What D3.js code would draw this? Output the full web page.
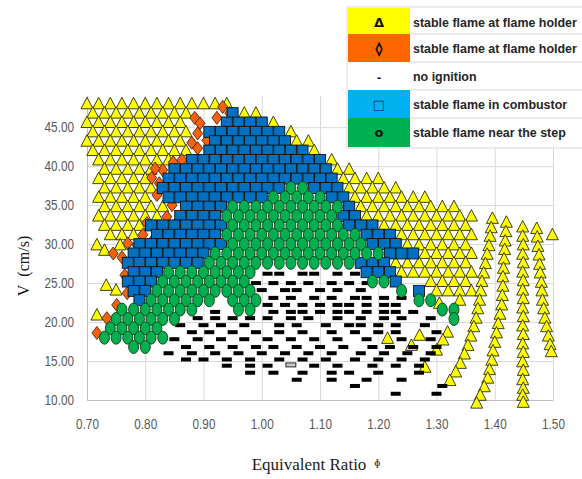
<!DOCTYPE html>
<html>
<head>
<meta charset="utf-8">
<script src="https://cdn.jsdelivr.net/npm/d3@7"></script>
<style>
  body { margin: 0; background: #fff; }
  svg { display: block; }
  .tick-label { font-family: "Liberation Sans", sans-serif; font-size: 14px; fill: #595959; }
  .axis-title { font-family: "Liberation Serif", "DejaVu Serif", serif; fill: #1a1a1a; }
  .legend-text { font-family: "Liberation Sans", sans-serif; font-size: 14px; font-weight: bold; fill: #262626; }
</style>
</head>
<body>
<div id="chart"></div>
<script>
// ---- data ----
var xTicks = [0.70, 0.80, 0.90, 1.00, 1.10, 1.20, 1.30, 1.40, 1.50];
var yTicks = [10, 15, 20, 25, 30, 35, 40, 45];

var legendLabels = [
  "stable flame at flame holder",
  "stable flame at flame holder",
  "no ignition",
  "stable flame in combustor",
  "stable flame near the step"
];
var legendSymbols = ["\u0394", "\u25CA", "-", "\u25A1", "o"];

// yellow triangles, rows of [V, [phi ...]]
var triangleRows = [
  [48.0, [0.70, 0.72, 0.74, 0.76, 0.78, 0.80, 0.82, 0.84, 0.86, 0.88, 0.90, 0.92, 0.94]],
  [46.8, [0.71, 0.73, 0.75, 0.77, 0.79, 0.81, 0.83, 0.85, 0.87, 0.97, 0.99]],
  [45.6, [0.70, 0.72, 0.74, 0.76, 0.78, 0.80, 0.82, 0.84, 0.86, 1.02]],
  [44.4, [0.71, 0.73, 0.75, 0.77, 0.79, 0.81, 0.83, 0.85, 0.87, 1.05]],
  [43.2, [0.70, 0.72, 0.74, 0.76, 0.78, 0.80, 0.82, 0.84, 0.86, 1.06, 1.08]],
  [42.0, [0.71, 0.73, 0.75, 0.77, 0.79, 0.81, 0.83, 0.85, 0.87, 1.09]],
  [40.8, [0.72, 0.74, 0.76, 0.78, 0.80, 0.82, 0.84, 1.12]],
  [39.6, [0.73, 0.75, 0.77, 0.79, 0.81, 1.13, 1.15]],
  [38.4, [0.72, 0.74, 0.76, 0.78, 0.80, 1.14, 1.16, 1.18, 1.20]],
  [37.2, [0.73, 0.75, 0.77, 0.79, 0.81, 1.15, 1.17, 1.19, 1.21, 1.23]],
  [36.0, [0.72, 0.74, 0.76, 0.78, 0.80, 1.16, 1.18, 1.20, 1.22, 1.24, 1.26, 1.28]],
  [34.8, [0.73, 0.75, 0.77, 0.79, 0.81, 0.83, 1.17, 1.19, 1.21, 1.23, 1.25, 1.27, 1.29, 1.31, 1.33]],
  [33.6, [0.72, 0.74, 0.76, 0.78, 0.80, 0.82, 1.18, 1.20, 1.22, 1.24, 1.26, 1.28, 1.30, 1.32, 1.34, 1.36]],
  [32.4, [0.73, 0.75, 0.77, 0.79, 1.21, 1.23, 1.25, 1.27, 1.29, 1.31, 1.33, 1.35]],
  [31.2, [0.74, 0.76, 0.78, 1.24, 1.26, 1.28, 1.30, 1.32, 1.34, 1.36]],
  [29.9, [0.717, 0.757, 1.25, 1.27, 1.29, 1.31, 1.33, 1.35]],
  [29.2, [0.73]],
  [28.8, [1.28, 1.30, 1.32, 1.34, 1.36]],
  [27.6, [1.23, 1.25, 1.27, 1.29, 1.31, 1.33, 1.35]],
  [26.4, [1.24, 1.26, 1.28, 1.30, 1.32, 1.34, 1.36]],
  [25.2, [1.29, 1.31, 1.33, 1.35]],
  [24.7, [0.733]],
  [24.1, [0.75]],
  [24.0, [1.30, 1.32, 1.34, 1.36]],
  [20.9, [0.717]]
];

// yellow triangles in the slanted columns on the right, [phi, V]
var triangleColumns = [
  [1.396, 33.3], [1.394, 32.1], [1.392, 31.0], [1.390, 29.8], [1.387, 28.7], [1.384, 27.5], [1.381, 26.3],
  [1.378, 25.2], [1.376, 24.0], [1.374, 22.8], [1.371, 21.7], [1.368, 20.5], [1.364, 19.4], [1.359, 18.2],
  [1.354, 17.0], [1.348, 15.9], [1.341, 14.7], [1.333, 13.6], [1.323, 12.5],
  [1.420, 32.8], [1.419, 31.6], [1.418, 30.4], [1.417, 29.3], [1.416, 28.1], [1.415, 26.9], [1.414, 25.8],
  [1.414, 24.6], [1.413, 23.4], [1.412, 22.2], [1.409, 21.0], [1.406, 19.8], [1.403, 18.6], [1.400, 17.4],
  [1.397, 16.3], [1.395, 15.1], [1.391, 13.9], [1.388, 12.8], [1.382, 11.7], [1.375, 10.6], [1.369, 9.6],
  [1.448, 32.2], [1.448, 31.0], [1.449, 29.9], [1.448, 28.7], [1.449, 27.6], [1.448, 26.4], [1.449, 25.3],
  [1.448, 24.1], [1.449, 23.0], [1.448, 21.8], [1.449, 20.7], [1.448, 19.5], [1.449, 18.4], [1.448, 17.2],
  [1.449, 16.1], [1.448, 14.9], [1.449, 13.8], [1.448, 12.6], [1.449, 11.5], [1.448, 10.6], [1.449, 9.7],
  [1.472, 32.0], [1.473, 30.9], [1.474, 29.7], [1.476, 28.6], [1.477, 27.4], [1.478, 26.3], [1.480, 25.1],
  [1.481, 24.0], [1.482, 22.8], [1.484, 21.7], [1.486, 20.5], [1.489, 19.4], [1.492, 18.2], [1.495, 17.1],
  [1.497, 16.2], [1.499, 31.2],
  [1.305, 22.4], [1.340, 22.8], [1.319, 18.7], [1.311, 17.7], [1.300, 16.4],
  [1.216, 17.9], [1.257, 17.0], [1.271, 18.3], [1.280, 14.2]
];

// orange diamonds, [phi, V]
var diamondPoints = [
  [0.933, 47.6], [0.945, 46.8], [0.923, 46.2], [0.885, 46.2], [0.894, 45.5], [0.890, 44.2], [0.906, 43.3],
  [0.880, 43.0], [0.890, 42.3], [0.848, 40.5], [0.863, 40.8], [0.830, 39.5], [0.817, 39.7], [0.811, 38.5],
  [0.824, 37.8], [0.820, 36.3], [0.846, 35.0], [0.837, 33.5], [0.854, 32.7], [0.868, 32.2], [0.803, 32.7],
  [0.796, 31.2], [0.811, 30.3], [0.770, 30.1], [0.786, 29.9], [0.745, 28.8], [0.760, 28.3], [0.765, 26.0],
  [0.769, 23.7], [0.751, 22.2], [0.734, 20.5], [0.717, 18.6]
];

// black dashes (no ignition), rows of [V, [phi ...]]
var dashRows = [
  [26.2, [1.01, 1.03, 1.07, 1.09, 1.13, 1.16]],
  [25.0, [0.99, 1.02, 1.05, 1.08, 1.12, 1.15, 1.18]],
  [24.1, [1.00, 1.04, 1.06, 1.10, 1.13, 1.17]],
  [23.1, [1.02, 1.05, 1.09, 1.12, 1.16, 1.18, 1.21, 1.24]],
  [22.2, [1.01, 1.04, 1.07, 1.10, 1.13, 1.15, 1.18, 1.21, 1.23]],
  [21.3, [0.92, 1.02, 1.05, 1.07, 1.10, 1.13, 1.15, 1.18, 1.21, 1.23, 1.26]],
  [20.5, [0.89, 0.92, 0.95, 0.98, 1.01, 1.05, 1.08, 1.13, 1.17, 1.21, 1.24, 1.29]],
  [19.6, [0.86, 0.90, 0.93, 0.97, 1.03, 1.06, 1.11, 1.15, 1.17, 1.20, 1.23, 1.28]],
  [18.7, [0.88, 0.91, 0.95, 0.99, 1.03, 1.07, 1.12, 1.16, 1.20, 1.23, 1.30]],
  [17.8, [0.85, 0.89, 0.93, 0.97, 1.01, 1.05, 1.09, 1.13, 1.18, 1.24, 1.29]],
  [16.8, [0.87, 0.91, 0.95, 0.99, 1.02, 1.06, 1.10, 1.14, 1.19, 1.22, 1.26, 1.30]],
  [16.0, [0.84, 0.88, 0.92, 0.96, 1.00, 1.04, 1.08, 1.12, 1.17, 1.21, 1.25, 1.29]],
  [15.2, [0.87, 0.90, 0.94, 0.98, 1.03, 1.07, 1.11, 1.16, 1.20, 1.24, 1.28]],
  [14.4, [0.94, 0.98, 1.01, 1.09, 1.13, 1.19, 1.23, 1.27]],
  [13.5, [0.98, 1.02, 1.07, 1.12, 1.15, 1.20, 1.27]],
  [12.6, [1.06, 1.12, 1.18, 1.24]],
  [11.8, [1.16, 1.31]],
  [10.8, [1.23, 1.30]]
];
var grayDash = [[1.05, 14.5]];

// blue squares, rows of [V, [phi ...]]
var squareRows = [
  [46.8, [0.95]],
  [45.6, [0.94, 0.96, 0.98, 1.00]],
  [44.4, [0.91, 0.93, 0.95, 0.97, 0.99, 1.01, 1.03]],
  [43.2, [0.92, 0.94, 0.96, 0.98, 1.00, 1.02, 1.04]],
  [42.0, [0.91, 0.93, 0.95, 0.97, 0.99, 1.01, 1.03, 1.05, 1.07]],
  [40.8, [0.88, 0.90, 0.92, 0.94, 0.96, 0.98, 1.00, 1.02, 1.04, 1.06, 1.08, 1.10]],
  [39.6, [0.85, 0.87, 0.89, 0.91, 0.93, 0.95, 0.97, 0.99, 1.01, 1.03, 1.05, 1.07, 1.09, 1.11]],
  [38.4, [0.84, 0.86, 0.88, 0.90, 0.92, 0.94, 0.96, 0.98, 1.00, 1.02, 1.04, 1.06, 1.08, 1.10, 1.12]],
  [37.2, [0.83, 0.85, 0.87, 0.89, 0.91, 0.93, 0.95, 0.97, 0.99, 1.01, 1.03, 1.09, 1.11, 1.13]],
  [36.0, [0.84, 0.86, 0.88, 0.90, 0.92, 0.94, 0.96, 0.98, 1.00, 1.12, 1.14]],
  [34.8, [0.87, 0.89, 0.91, 0.93, 1.15]],
  [33.6, [0.86, 0.88, 0.90, 0.92, 1.14, 1.16]],
  [32.4, [0.81, 0.83, 0.85, 0.87, 0.89, 0.91, 0.93, 1.15, 1.17, 1.19]],
  [31.2, [0.82, 0.84, 0.86, 0.88, 0.90, 0.92, 1.18, 1.20, 1.22]],
  [30.0, [0.79, 0.81, 0.83, 0.85, 0.87, 0.89, 0.91, 0.93, 1.19, 1.21, 1.23]],
  [28.8, [0.78, 0.80, 0.82, 0.84, 0.86, 0.88, 0.90, 1.22, 1.24, 1.26]],
  [27.6, [0.77, 0.79, 0.81, 0.83, 0.85, 0.87, 0.89, 1.17, 1.19, 1.21]],
  [26.4, [0.78, 0.80, 0.82, 1.18, 1.20, 1.22]],
  [25.2, [0.77, 0.79, 0.81, 1.23]],
  [24.0, [0.78, 0.80, 1.27]],
  [22.8, [0.79]]
];

// green circles, rows of [V, [phi ...]]
var circleRows = [
  [37.2, [1.05, 1.07]],
  [36.0, [1.02, 1.04, 1.06, 1.08, 1.10]],
  [34.8, [0.95, 0.97, 0.99, 1.01, 1.03, 1.05, 1.07, 1.09, 1.11, 1.13]],
  [33.6, [0.94, 0.96, 0.98, 1.00, 1.02, 1.04, 1.06, 1.08, 1.10, 1.12]],
  [32.4, [0.95, 0.97, 0.99, 1.01, 1.03, 1.05, 1.07, 1.09, 1.11, 1.13]],
  [31.2, [0.94, 0.96, 0.98, 1.00, 1.02, 1.04, 1.06, 1.08, 1.10, 1.12, 1.14, 1.16]],
  [30.0, [0.95, 0.97, 0.99, 1.01, 1.03, 1.05, 1.07, 1.09, 1.11, 1.13, 1.15, 1.17]],
  [28.8, [0.92, 0.94, 0.96, 0.98, 1.00, 1.02, 1.04, 1.06, 1.08, 1.10, 1.12, 1.14, 1.16, 1.18, 1.20]],
  [27.6, [0.91, 0.93, 0.95, 0.97, 0.99, 1.01, 1.03, 1.05, 1.07, 1.09, 1.11, 1.13, 1.15]],
  [26.4, [0.84, 0.86, 0.88, 0.90, 0.92, 0.94, 0.96, 0.98]],
  [25.2, [0.83, 0.85, 0.87, 0.89, 0.91, 0.93, 0.95, 0.97, 1.19, 1.21]],
  [24.0, [0.82, 0.84, 0.86, 0.88, 0.90, 0.92, 0.94, 0.96, 0.98, 1.24]],
  [22.8, [0.81, 0.83, 0.85, 0.87, 0.89, 0.91, 0.95, 0.97, 0.99, 1.27, 1.29]],
  [21.6, [0.76, 0.78, 0.80, 0.82, 0.84, 0.86, 0.88, 0.96, 0.98, 1.31, 1.33]],
  [20.4, [0.75, 0.77, 0.79, 0.81, 0.83, 0.85, 1.33]],
  [19.2, [0.74, 0.76, 0.78, 0.80, 0.82]],
  [18.0, [0.73, 0.75, 0.77, 0.79, 0.81, 0.83]],
  [16.8, [0.78, 0.80]]
];

// ---- layout ----
var svgWidth = 582;
var svgHeight = 479;
var chartMargin = { top: 96, right: 29, bottom: 79, left: 87 };
var chartWidth = svgWidth - chartMargin.left - chartMargin.right;
var chartHeight = svgHeight - chartMargin.top - chartMargin.bottom;

var svg = d3.select("#chart").append("svg")
  .attr("width", svgWidth)
  .attr("height", svgHeight);

var chartGroup = svg.append("g")
  .attr("transform", `translate(${chartMargin.left}, ${chartMargin.top})`);

var xScale = d3.scaleLinear().domain([0.7, 1.5]).range([0, chartWidth]);
var yScale = d3.scaleLinear().domain([10, 49]).range([chartHeight, 0]);

// flatten row tables into points
function fromRows(rows) {
  var pts = [];
  rows.forEach(function(r) {
    r[1].forEach(function(p) { pts.push([p, r[0]]); });
  });
  return pts;
}
var trianglePoints = fromRows(triangleRows).concat(triangleColumns);
var dashPoints = fromRows(dashRows);
var squarePoints = fromRows(squareRows);
var circlePoints = fromRows(circleRows);

// squeeze text horizontally (the reference uses a condensed face)
function squeeze(sel, factor) {
  sel.each(function() {
    var len = this.getComputedTextLength();
    d3.select(this).attr("textLength", len * factor).attr("lengthAdjust", "spacingAndGlyphs");
  });
}

// gridlines
chartGroup.append("g")
  .attr("class", "grid")
  .call(d3.axisLeft(yScale).tickValues(yTicks).tickSize(-chartWidth).tickFormat(""))
  .call(g => g.select(".domain").remove())
  .call(g => g.selectAll("line").attr("stroke", "#d9d9d9"));

chartGroup.append("g")
  .attr("class", "grid")
  .attr("transform", `translate(0, ${chartHeight})`)
  .call(d3.axisBottom(xScale).tickValues(xTicks).tickSize(-chartHeight).tickFormat(""))
  .call(g => g.select(".domain").remove())
  .call(g => g.selectAll("line").attr("stroke", "#d9d9d9"));

// axes
var leftAxis = d3.axisLeft(yScale).tickValues(yTicks).tickFormat(d3.format(".2f")).tickSize(0).tickPadding(13);
var bottomAxis = d3.axisBottom(xScale).tickValues(xTicks).tickFormat(d3.format(".2f")).tickSize(0).tickPadding(19);

chartGroup.append("g")
  .call(leftAxis)
  .call(g => g.select(".domain").attr("stroke", "#bfbfbf"))
  .call(g => g.selectAll("text").attr("class", "tick-label").attr("font-family", null).attr("font-size", null));

chartGroup.append("g")
  .attr("transform", `translate(0, ${chartHeight})`)
  .call(bottomAxis)
  .call(g => g.select(".domain").attr("stroke", "#bfbfbf"))
  .call(g => g.selectAll("text").attr("class", "tick-label").attr("font-family", null).attr("font-size", null));

squeeze(svg.selectAll(".tick-label"), 0.84);

// markers, drawn in legend order
chartGroup.selectAll(".tri")
  .data(trianglePoints)
  .enter()
  .append("path")
  .attr("class", "tri")
  .attr("d", "M0,-6.5L6,5L-6,5Z")
  .attr("transform", d => `translate(${xScale(d[0])}, ${yScale(d[1])})`)
  .attr("fill", "#ffff00")
  .attr("stroke", "#2b2b10")
  .attr("stroke-width", 0.9);

chartGroup.selectAll(".dia")
  .data(diamondPoints)
  .enter()
  .append("path")
  .attr("class", "dia")
  .attr("d", "M0,-6.5L5,0L0,6.5L-5,0Z")
  .attr("transform", d => `translate(${xScale(d[0])}, ${yScale(d[1])})`)
  .attr("fill", "#f4620d")
  .attr("stroke", "#3a1a05")
  .attr("stroke-width", 0.8);

chartGroup.selectAll(".dash")
  .data(dashPoints)
  .enter()
  .append("rect")
  .attr("class", "dash")
  .attr("x", d => xScale(d[0]) - 5)
  .attr("y", d => yScale(d[1]) - 2)
  .attr("width", 10)
  .attr("height", 4)
  .attr("fill", "#000");

chartGroup.selectAll(".gdash")
  .data(grayDash)
  .enter()
  .append("rect")
  .attr("class", "gdash")
  .attr("x", d => xScale(d[0]) - 5)
  .attr("y", d => yScale(d[1]) - 2)
  .attr("width", 10)
  .attr("height", 4)
  .attr("fill", "#c8c8c8")
  .attr("stroke", "#000")
  .attr("stroke-width", 0.8);

chartGroup.selectAll(".sq")
  .data(squarePoints)
  .enter()
  .append("rect")
  .attr("class", "sq")
  .attr("x", d => xScale(d[0]) - 5.5)
  .attr("y", d => yScale(d[1]) - 5.5)
  .attr("width", 11)
  .attr("height", 11)
  .attr("fill", "#0070c0")
  .attr("stroke", "#111")
  .attr("stroke-width", 0.9);

chartGroup.selectAll(".circ")
  .data(circlePoints)
  .enter()
  .append("ellipse")
  .attr("class", "circ")
  .attr("cx", d => xScale(d[0]))
  .attr("cy", d => yScale(d[1]))
  .attr("rx", 5)
  .attr("ry", 6.5)
  .attr("fill", "#00b050")
  .attr("stroke", "#163a16")
  .attr("stroke-width", 0.9);

// axis titles
svg.append("text")
  .attr("class", "axis-title")
  .attr("transform", "translate(29, 266) rotate(-90)")
  .attr("text-anchor", "middle")
  .style("font-size", "16px")
  .text("V\u00a0\u00a0(cm/s)");

var xTitle = svg.append("text")
  .attr("class", "axis-title")
  .attr("x", 309)
  .attr("y", 470)
  .attr("text-anchor", "middle")
  .style("font-size", "17px")
  .text("Equivalent Ratio");
var titleBox = xTitle.node().getBBox();

svg.append("text")
  .attr("class", "axis-title")
  .attr("x", titleBox.x + titleBox.width + 8)
  .attr("y", 466)
  .style("font-size", "11px")
  .style("fill", "#1a1a1a")
  .text("\u0278");

// legend table
var legendColors = ["#ffff00", "#ff6600", "#ffffff", "#00b0f0", "#00b050"];
var legendTops = [8, 34, 62, 90, 118];
var legend = svg.append("g").attr("class", "legend");

legend.append("rect")
  .attr("x", 347).attr("y", 7)
  .attr("width", 240).attr("height", 141)
  .attr("fill", "#fff")
  .attr("stroke", "#d9d9d9");

legend.selectAll(".cell")
  .data(legendColors)
  .enter()
  .append("rect")
  .attr("class", "cell")
  .attr("x", 348)
  .attr("y", (d, i) => legendTops[i])
  .attr("width", 62)
  .attr("height", (d, i) => i === 4 ? 29 : 28)
  .attr("fill", d => d);

legend.selectAll(".sep")
  .data(legendTops.slice(1))
  .enter()
  .append("line")
  .attr("class", "sep")
  .attr("x1", 410).attr("x2", 582)
  .attr("y1", d => d).attr("y2", d => d)
  .attr("stroke", "#d9d9d9");

legend.selectAll(".sym")
  .data(legendSymbols)
  .enter()
  .append("text")
  .attr("class", "sym")
  .attr("x", 379)
  .attr("y", (d, i) => legendTops[i] + 19)
  .attr("text-anchor", "middle")
  .style("font-family", "'DejaVu Sans', sans-serif")
  .style("font-size", (d, i) => i === 2 ? "11px" : "13px")
  .style("font-weight", "bold")
  .style("stroke", (d, i) => i === 1 ? "#111" : "none")
  .style("stroke-width", 0.8)
  .style("fill", (d, i) => i === 3 ? "#1f3a60" : "#111")
  .text(d => d);

var legendText = legend.selectAll(".ltext")
  .data(legendLabels)
  .enter()
  .append("text")
  .attr("class", "legend-text")
  .attr("x", 413)
  .attr("y", (d, i) => legendTops[i] + 19)
  .text(d => d);

// shrink the labels so the longest one fits the window (about 164px)
var longest = legendText.nodes()[0].getComputedTextLength();
legendText.style("font-size", (14 * 164 / longest).toFixed(2) + "px");
</script>
</body>
</html>
